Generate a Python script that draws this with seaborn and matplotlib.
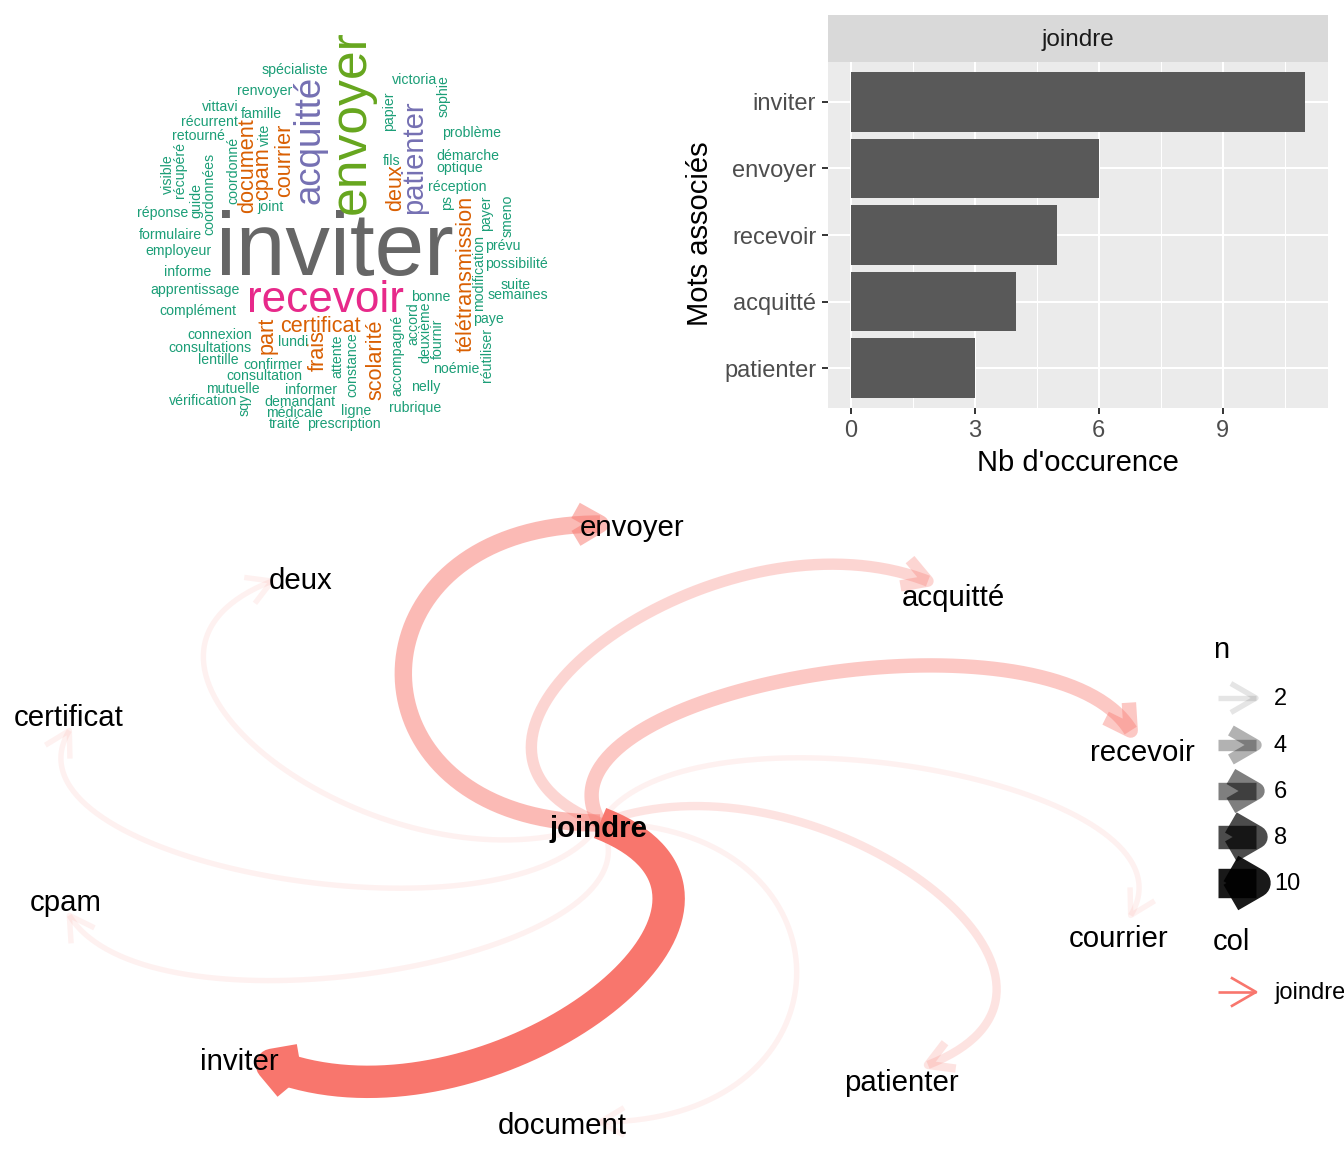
import numpy as np
import pandas as pd
import matplotlib
matplotlib.use('Agg')
import matplotlib.pyplot as plt
import seaborn as sns

# ---- données : mots associés à "joindre" ----
mots_assoc = ['inviter', 'envoyer', 'recevoir', 'acquitté', 'patienter']
nb_occ = [11, 6, 5, 4, 3]

# réseau (layout en étoile autour de "joindre")
centre = 'joindre'
cibles = ['envoyer', 'acquitté', 'recevoir', 'courrier', 'patienter',
          'document', 'inviter', 'cpam', 'certificat', 'deux']
cibles_n = [6, 4, 5, 2, 3, 2, 11, 2, 2, 2]

# nuage de mots : mot / fréquence
nuage_mots = ['inviter', 'envoyer', 'recevoir', 'acquitté', 'patienter',
              'document', 'cpam', 'courrier', 'deux', 'télétransmission',
              'certificat', 'part', 'frais', 'scolarité',
              'spécialiste', 'renvoyer', 'victoria', 'sophie', 'vittavi',
              'famille', 'récurrent', 'papier', 'retourné', 'vite',
              'problème', 'visible', 'récupéré', 'coordonnées', 'guide',
              'coordonné', 'fils', 'démarche', 'optique', 'réception', 'ps',
              'payer', 'smeno', 'joint', 'réponse', 'formulaire', 'employeur',
              'prévu', 'informe', 'possibilité', 'modification', 'suite',
              'semaines', 'apprentissage', 'bonne', 'complément', 'paye',
              'accord', 'deuxième', 'fournir', 'accompagné', 'connexion',
              'consultations', 'lundi', 'lentille', 'attente', 'constance',
              'noémie', 'réutiliser', 'confirmer', 'consultation', 'nelly',
              'mutuelle', 'informer', 'vérification', 'sqy', 'demandant',
              'médicale', 'ligne', 'rubrique', 'traité', 'prescription']
nuage_freq = [11, 6, 5, 4, 3] + [2] * 9 + [1] * 62

# ---- mise en page (positions du nuage, en pixels, et rotation) ----
nuage_pos = [(335, 252, 0), (351, 122, 90), (325, 301, 0), (310, 140, 90), (414, 157, 90),
             (248, 166, 90), (263, 174, 90), (285, 160, 90), (396, 188, 90), (466, 274, 90),
             (320, 326, 0), (267, 335, 90), (318, 351, 90), (376, 360, 90),
             (295, 70, 0), (265, 91, 0), (415, 80, 0), (444, 96, 90), (220, 107, 0),
             (261, 114, 0), (209, 122, 0), (389, 111, 90), (198, 136, 0), (265, 135, 90),
             (472, 133, 0), (168, 174, 90), (180, 170, 90), (209, 194, 90), (196, 200, 90),
             (233, 170, 90), (392, 161, 0), (468, 156, 0), (460, 168, 0), (457, 187, 0), (447, 203, 90),
             (486, 213, 90), (508, 216, 90), (270, 207, 0), (163, 213, 0), (170, 235, 0), (178, 251, 0),
             (503, 246, 0), (188, 272, 0), (516, 264, 0), (479, 273, 90), (516, 285, 0),
             (518, 295, 0), (195, 290, 0), (431, 297, 0), (198, 311, 0), (488, 319, 0),
             (413, 324, 90), (425, 332, 90), (438, 339, 90), (397, 355, 90), (220, 335, 0),
             (210, 348, 0), (293, 342, 0), (218, 360, 0), (337, 356, 90), (352, 365, 90),
             (456, 369, 0), (487, 355, 90), (273, 365, 0), (264, 376, 0), (426, 387, 0),
             (233, 389, 0), (311, 390, 0), (203, 401, 0), (245, 405, 90), (300, 402, 0),
             (294, 413, 0), (356, 411, 0), (415, 408, 0), (285, 424, 0), (344, 424, 0)]

# décalage des étiquettes de noeuds (pixels, x vers la droite, y vers le bas)
decal_etiq = [(32, 4), (25, 17), (12, 22), (-12, 24), (-27, 18),
              (-38, 4), (-33, -3), (-4, -12), (-1, -13), (29, 0)]

couleurs_freq = {1: '#1B9E77', 2: '#D95F02', 3: '#7570B3', 4: '#7570B3',
                 5: '#E7298A', 6: '#66A61E', 11: '#666666'}
ROUGE = '#F8766D'

W, H = 1344, 1152
fig = plt.figure(figsize=(W / 100, H / 100), dpi=100)
plt.rcParams['font.family'] = ['Liberation Sans', 'DejaVu Sans']


def rect(x0, y0, x1, y1):
    return [x0 / W, 1 - y1 / H, (x1 - x0) / W, (y1 - y0) / H]


# ---- nuage de mots ----
ax_wc = fig.add_axes(rect(0, 0, 600, 480))
ax_wc.set_xlim(0, 600)
ax_wc.set_ylim(480, 0)
ax_wc.axis('off')
for mot, f, (x, y, rot) in zip(nuage_mots, nuage_freq, nuage_pos):
    ax_wc.text(x, y, mot, fontsize=4.8 + 5.4 * f, rotation=rot,
               color=couleurs_freq[f], ha='center', va='center')

# ---- barres ----
df = pd.DataFrame({'mot': mots_assoc, 'n': nb_occ})
ax_bar = fig.add_axes(rect(828, 62, 1328, 408))
ax_bar.set_facecolor('#EBEBEB')
sns.barplot(data=df, x='n', y='mot', orient='h', color='#595959',
            saturation=1, width=0.9, linewidth=0, ax=ax_bar)
ax_bar.set_xlim(-0.55, 11.55)
ax_bar.set_ylim(4.6, -0.6)
ax_bar.set_xticks([0, 3, 6, 9])
ax_bar.set_xticks([1.5, 4.5, 7.5, 10.5], minor=True)
ax_bar.set_axisbelow(True)
ax_bar.grid(which='major', color='white', lw=1.5)
ax_bar.grid(which='minor', axis='x', color='white', lw=0.75)
ax_bar.tick_params(which='minor', length=0)
ax_bar.tick_params(which='major', length=4.5, width=1.4, color='#333333',
                   labelsize=17, labelcolor='#4D4D4D', pad=4)
for s in ax_bar.spines.values():
    s.set_visible(False)
ax_bar.set_xlabel('')
ax_bar.set_ylabel('')
fig.text(1078 / W, 1 - 463 / H, "Nb d'occurence", fontsize=21,
         ha='center', va='center')
fig.text(700 / W, 1 - 234 / H, 'Mots associés', fontsize=21, rotation=90,
         ha='center', va='center')

ax_strip = fig.add_axes(rect(828, 15, 1328, 62))
ax_strip.set_facecolor('#D9D9D9')
ax_strip.set_xticks([])
ax_strip.set_yticks([])
for s in ax_strip.spines.values():
    s.set_visible(False)
ax_strip.text(0.5, 0.47, centre, fontsize=17.5, color='#1A1A1A',
              ha='center', va='center', transform=ax_strip.transAxes)

# ---- réseau ----
ax_net = fig.add_axes(rect(0, 490, W, H))
ax_net.set_xlim(-600 / 558, (W - 600) / 558)
ax_net.set_ylim((823 - H) / 299, (823 - 490) / 299)
ax_net.axis('off')

angles = np.deg2rad(90 - 36 * np.arange(len(cibles)))
noeuds = np.column_stack([np.cos(angles), np.sin(angles)])
n_min, n_max = min(cibles_n), max(cibles_n)


def largeur(n):
    return 0.72 * 5.4 * (1 + 5 * (n - n_min) / (n_max - n_min))


def transparence(n):
    return 0.1 + 0.9 * (n - n_min) / (n_max - n_min)


def arc(p0, p1, force=0.94, npts=150):
    d = p1 - p0
    dist = np.hypot(*d)
    perp = np.array([-d[1], d[0]]) / dist
    h = dist / 2 * force
    c1, c2 = p0 + perp * h, p1 + perp * h
    t = np.linspace(0, 1, npts)[:, None]
    return (1 - t) ** 3 * p0 + 3 * (1 - t) ** 2 * t * c1 + 3 * (1 - t) * t ** 2 * c2 + t ** 3 * p1


def chevron(pts_disp, longueur=28):
    tip = pts_disp[-1]
    u = tip - pts_disp[-3]
    u = u / np.hypot(*u)
    bras = []
    for a in (np.deg2rad(30), -np.deg2rad(30)):
        r = np.array([[np.cos(a), -np.sin(a)], [np.sin(a), np.cos(a)]])
        bras.append(tip - longueur * (r @ u))
    return np.array([bras[0], tip, bras[1]])


inv = ax_net.transData.inverted()
p0 = np.array([0.0, 0.0])
ordre = np.argsort(cibles_n, kind='stable')
for i in ordre:
    n = cibles_n[i]
    pts = arc(p0, noeuds[i])
    lw, al = largeur(n), transparence(n)
    ax_net.plot(pts[:, 0], pts[:, 1], color=ROUGE, lw=lw, alpha=al,
                solid_capstyle='butt', solid_joinstyle='round')
    tete = inv.transform(chevron(ax_net.transData.transform(pts)))
    ax_net.plot(tete[:, 0], tete[:, 1], color=ROUGE, lw=lw, alpha=al,
                solid_capstyle='butt', solid_joinstyle='round')

for (x, y), nom, (dx, dy) in zip(noeuds, cibles, decal_etiq):
    ax_net.annotate(nom, (x, y), xytext=(dx * 0.72, -dy * 0.72),
                    textcoords='offset points', fontsize=21.2,
                    ha='center', va='center')
ax_net.annotate(centre, (0, 0), xytext=(-2 * 0.72, -6 * 0.72),
                textcoords='offset points', fontsize=21.2, fontweight='bold',
                ha='center', va='center')

# ---- légende ----
ax_leg = fig.add_axes([0, 0, 1, 1])
ax_leg.set_xlim(0, W)
ax_leg.set_ylim(H, 0)
ax_leg.axis('off')
ax_leg.patch.set_alpha(0)
ax_leg.text(1213, 650, 'n', fontsize=21, ha='left', va='center')
leg_n = [2, 4, 6, 8, 10]
leg_y = [698, 745, 791, 837, 883]
a = np.deg2rad(30)
for n, y in zip(leg_n, leg_y):
    lw, al = largeur(n), transparence(n)
    ax_leg.plot([1218, 1256], [y, y], color='black', lw=lw, alpha=al,
                solid_capstyle='butt')
    ax_leg.plot([1256 - 29 * np.cos(a), 1256, 1256 - 29 * np.cos(a)],
                [y - 29 * np.sin(a), y, y + 29 * np.sin(a)], color='black',
                lw=lw, alpha=al, solid_capstyle='butt', solid_joinstyle='round')
    ax_leg.text(1274, y + 1, str(n), fontsize=17, ha='left', va='center')

ax_leg.text(1213, 942, 'col', fontsize=21, ha='left', va='center')
ax_leg.plot([1218, 1256], [992, 992], color=ROUGE, lw=1.9, solid_capstyle='butt')
ax_leg.plot([1256 - 29 * np.cos(a), 1256, 1256 - 29 * np.cos(a)],
            [992 - 29 * np.sin(a), 992, 992 + 29 * np.sin(a)], color=ROUGE,
            lw=1.9, solid_capstyle='butt', solid_joinstyle='round')
ax_leg.text(1274, 993, centre, fontsize=17, ha='left', va='center')

fig.savefig('out.png', dpi=100)
